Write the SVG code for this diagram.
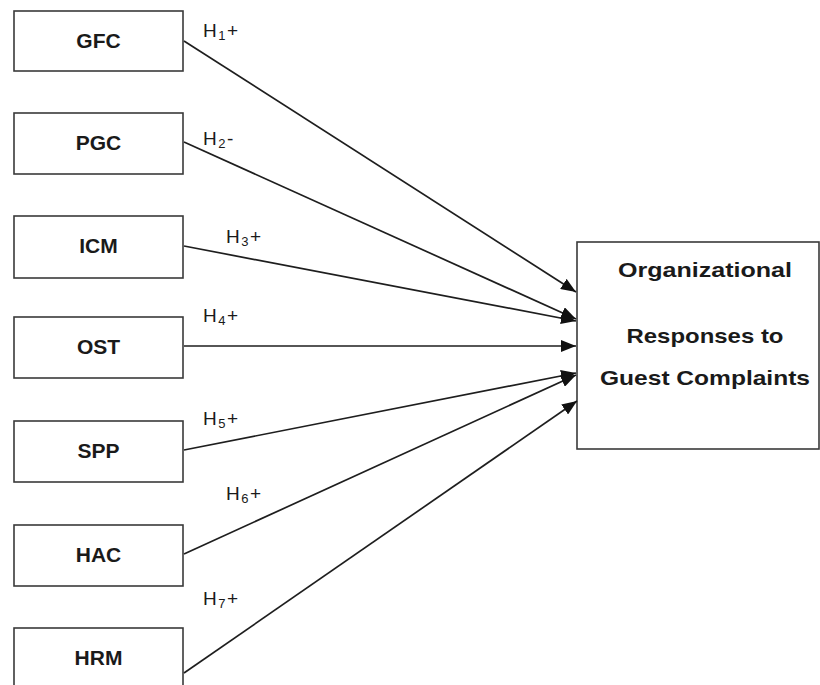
<svg xmlns="http://www.w3.org/2000/svg" width="820" height="685" viewBox="0 0 820 685">
  <style>
    .box { fill: #ffffff; stroke: #3a3a3a; stroke-width: 1.6; }
    .name { font-family: "Liberation Sans", Arial, sans-serif; font-weight: bold; font-size: 21px; fill: #1a1a1a; text-anchor: middle; }
    .outcome { font-family: "Liberation Sans", Arial, sans-serif; font-weight: bold; font-size: 21px; fill: #1a1a1a; text-anchor: middle; }
    .hyp { font-family: "Liberation Sans", Arial, sans-serif; font-size: 19px; fill: #1a1a1a; letter-spacing: 1.5px; }
    .sub { font-size: 13px; }
    .link { stroke: #1e1e1e; stroke-width: 1.7; fill: none; marker-end: url(#head); }
  </style>
  <defs>
    <marker id="head" markerUnits="userSpaceOnUse" markerWidth="16" markerHeight="12" refX="15" refY="6" orient="auto">
      <path d="M0,0 L15,6 L0,12 Z" fill="#111111"/>
    </marker>
  </defs>
  <rect width="820" height="685" fill="#ffffff"/>

  <!-- predictor constructs -->
  <g id="gfc"><rect class="box" x="14" y="11" width="169" height="60"/><text class="name" x="98.5" y="48">GFC</text></g>
  <g id="pgc"><rect class="box" x="14" y="113" width="169" height="61"/><text class="name" x="98.5" y="150">PGC</text></g>
  <g id="icm"><rect class="box" x="14" y="216" width="169" height="62"/><text class="name" x="98.5" y="253">ICM</text></g>
  <g id="ost"><rect class="box" x="14" y="317" width="169" height="61"/><text class="name" x="98.5" y="354">OST</text></g>
  <g id="spp"><rect class="box" x="14" y="421" width="169" height="61"/><text class="name" x="98.5" y="458">SPP</text></g>
  <g id="hac"><rect class="box" x="14" y="525" width="169" height="61"/><text class="name" x="98.5" y="562">HAC</text></g>
  <g id="hrm"><rect class="box" x="14" y="628" width="169" height="61"/><text class="name" x="98.5" y="665">HRM</text></g>

  <!-- outcome construct -->
  <g id="outcome">
    <rect class="box" x="577" y="242" width="242" height="207"/>
    <text class="outcome" x="705" y="277" textLength="174" lengthAdjust="spacingAndGlyphs">Organizational</text>
    <text class="outcome" x="705" y="343" textLength="157" lengthAdjust="spacingAndGlyphs">Responses to</text>
    <text class="outcome" x="705" y="385" textLength="210" lengthAdjust="spacingAndGlyphs">Guest Complaints</text>
  </g>

  <!-- hypothesised paths -->
  <g id="connectors">
    <line class="link" x1="184" y1="41" x2="576" y2="292"/>
    <line class="link" x1="184" y1="142" x2="576" y2="319"/>
    <line class="link" x1="184" y1="246" x2="576" y2="321"/>
    <line class="link" x1="184" y1="346" x2="576" y2="346"/>
    <line class="link" x1="184" y1="450" x2="576" y2="373"/>
    <line class="link" x1="184" y1="554" x2="576" y2="375"/>
    <line class="link" x1="184" y1="673" x2="577" y2="401"/>

    <text class="hyp" x="203" y="37">H<tspan class="sub" dy="3">1</tspan><tspan dy="-3">+</tspan></text>
    <text class="hyp" x="203" y="145">H<tspan class="sub" dy="3">2</tspan><tspan dy="-3">-</tspan></text>
    <text class="hyp" x="226" y="243">H<tspan class="sub" dy="3">3</tspan><tspan dy="-3">+</tspan></text>
    <text class="hyp" x="203" y="322">H<tspan class="sub" dy="3">4</tspan><tspan dy="-3">+</tspan></text>
    <text class="hyp" x="203" y="425">H<tspan class="sub" dy="3">5</tspan><tspan dy="-3">+</tspan></text>
    <text class="hyp" x="226" y="500">H<tspan class="sub" dy="3">6</tspan><tspan dy="-3">+</tspan></text>
    <text class="hyp" x="203" y="605">H<tspan class="sub" dy="3">7</tspan><tspan dy="-3">+</tspan></text>
  </g>
</svg>
